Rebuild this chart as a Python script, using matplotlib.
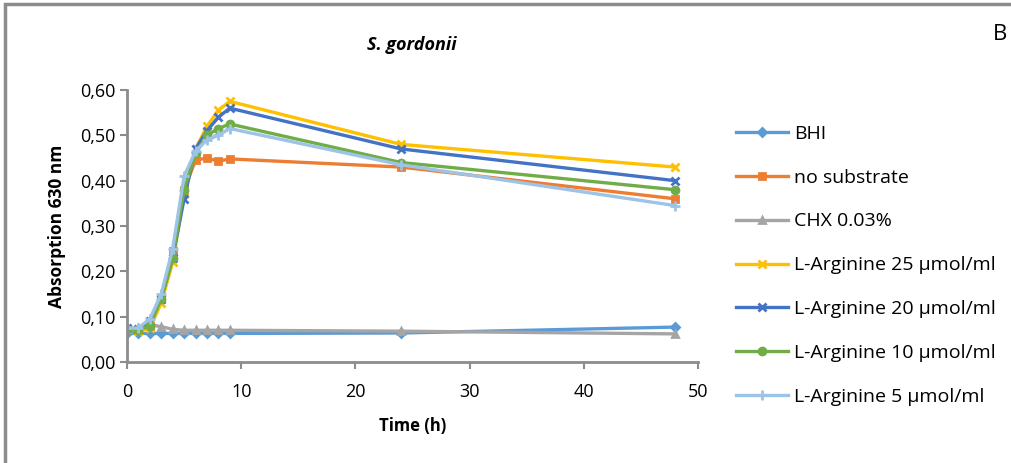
import matplotlib
matplotlib.use("Agg")
import matplotlib.pyplot as plt
from matplotlib.patches import Rectangle
from matplotlib.ticker import FuncFormatter

# time points [h]
time_h = [0, 1, 2, 3, 4, 5, 6, 7, 8, 9, 24, 48]

# absorption at 630 nm
bhi      = [0.063, 0.063, 0.063, 0.063, 0.063, 0.063, 0.063, 0.063, 0.063, 0.063, 0.064, 0.077]
no_sub   = [0.072, 0.070, 0.080, 0.140, 0.245, 0.380, 0.445, 0.450, 0.443, 0.448, 0.430, 0.360]
chx      = [0.072, 0.075, 0.082, 0.078, 0.072, 0.070, 0.070, 0.070, 0.070, 0.070, 0.068, 0.062]
arg25    = [0.072, 0.068, 0.075, 0.130, 0.220, 0.370, 0.470, 0.520, 0.555, 0.575, 0.480, 0.430]
arg20    = [0.075, 0.072, 0.090, 0.140, 0.230, 0.360, 0.470, 0.510, 0.540, 0.560, 0.470, 0.400]
arg10    = [0.072, 0.070, 0.080, 0.140, 0.230, 0.380, 0.460, 0.500, 0.515, 0.525, 0.440, 0.380]
arg5     = [0.075, 0.075, 0.095, 0.150, 0.250, 0.410, 0.465, 0.490, 0.500, 0.515, 0.435, 0.345]

labels = ["BHI", "no substrate", "CHX 0.03%", "L-Arginine 25 µmol/ml",
          "L-Arginine 20 µmol/ml", "L-Arginine 10 µmol/ml", "L-Arginine 5 µmol/ml"]

plt.rcParams['font.family'] = ['Open Sans', 'DejaVu Sans']

fig = plt.figure(figsize=(10.12, 4.63), dpi=100)

# grey frame of the chart area (top/left visible)
fig.patches.append(Rectangle((5 / 1012, -0.1), 1.2, (463 - 4) / 463 + 0.1,
                             transform=fig.transFigure, fill=False,
                             edgecolor='#8c8c8c', linewidth=2.5))

ax = fig.add_axes([127 / 1012, 101 / 463, 571 / 1012, 272 / 463])

series = [
    (bhi,    '#5B9BD5', 'D', 4),
    (no_sub, '#ED7D31', 's', 5),
    (chx,    '#A5A5A5', '^', 5),
    (arg25,  '#FFC000', 'x', 6),
    (arg20,  '#4472C4', 'x', 6),
    (arg10,  '#70AD47', 'o', 5),
    (arg5,   '#9DC3E6', '+', 7),
]

for (vals, col, mk, ms), lab in zip(series, labels):
    ax.plot(time_h, vals, color=col, marker=mk, markersize=ms,
            markeredgewidth=2, linewidth=2.4, label=lab)

ax.set_xlim(0, 50)
ax.set_ylim(0, 0.6)
ax.set_xticks([0, 10, 20, 30, 40, 50])
ax.set_yticks([0, 0.1, 0.2, 0.3, 0.4, 0.5, 0.6])
ax.yaxis.set_major_formatter(FuncFormatter(lambda v, p: "{:.2f}".format(v).replace('.', ',')))

for s in ['top', 'right']:
    ax.spines[s].set_visible(False)
for s in ['left', 'bottom']:
    ax.spines[s].set_color('#8c8c8c')
    ax.spines[s].set_linewidth(2)
ax.tick_params(colors='#8c8c8c', labelcolor='black', width=1.5, length=5,
               labelsize=13)
ax.tick_params(axis='x', pad=10)

ax.set_xlabel("Time (h)", fontsize=12, fontweight='bold', labelpad=12)
ax.set_ylabel("Absorption 630 nm", fontsize=12.5, fontweight='bold', labelpad=10)

fig.text(412 / 1012, 1 - 45 / 463, "S. gordonii", fontsize=13,
         fontweight='bold', fontstyle='italic', ha='center', va='center')
fig.text(1000 / 1012, 1 - 35 / 463, "B", fontsize=16, ha='center', va='center')

fig.legend(loc='upper left', bbox_to_anchor=(728 / 1012, 1 - 117 / 463),
           frameon=False, fontsize=14, handlelength=2.7, labelspacing=1.33,
           handletextpad=0.3, borderaxespad=0)

fig.savefig("out.png", dpi=100)
